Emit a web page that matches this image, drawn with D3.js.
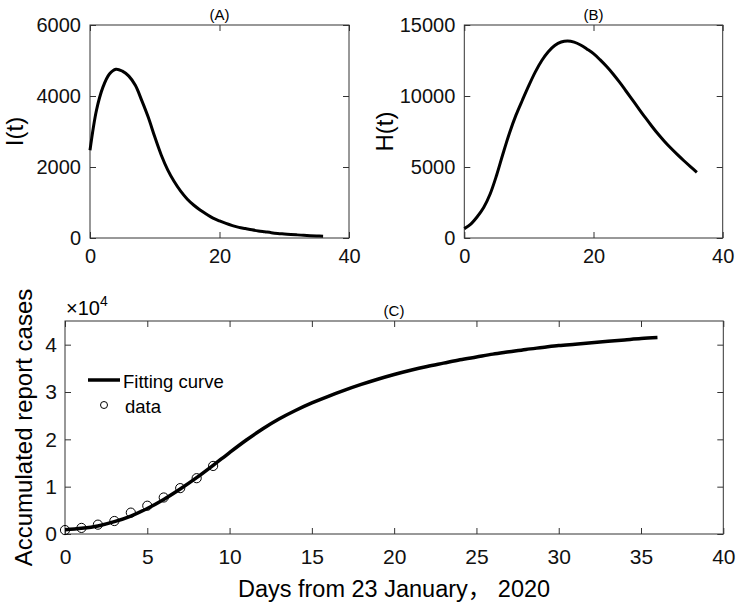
<!DOCTYPE html>
<html><head><meta charset="utf-8">
<script src="https://cdn.jsdelivr.net/npm/d3@7"></script>
<style>
html,body{margin:0;padding:0;background:#fff;}
svg{display:block;font-family:"Liberation Sans",Arial,Helvetica,sans-serif;}
.ax path,.ax line{stroke:#333;stroke-width:1;}
.ax text{fill:#111;}
</style></head><body>
<svg id="chart" width="742" height="606"></svg>
<script>
// ---- data ----
const days = d3.range(0, 37); // 0..36
const infected = [2470,3600,4250,4620,4755,4700,4560,4300,3870,3400,2850,2340,1920,1590,1320,1100,930,790,670,560,480,410,350,300,265,230,200,175,150,130,115,100,88,76,66,57,50];
const hospital = [660,980,1500,2150,3100,4420,5950,7400,8650,9720,10750,11700,12500,13120,13560,13800,13870,13790,13590,13300,12980,12560,12090,11570,10990,10370,9740,9110,8490,7890,7320,6800,6320,5870,5440,5030,4630];
const fitCurve = [0.09,0.12,0.17,0.26,0.38,0.54,0.73,0.95,1.19,1.45,1.72,1.98,2.22,2.43,2.61,2.77,2.91,3.04,3.16,3.27,3.37,3.46,3.54,3.61,3.68,3.74,3.80,3.85,3.90,3.94,3.98,4.01,4.04,4.07,4.10,4.13,4.15];
const dataDays = [0,1,2,3,4,5,6,7,8,9];
const dataCases = [830,1287,1975,2744,4515,5974,7711,9692,11791,14380];
const ticksAB_x = [0,20,40];
const ticksA_y = [0,2000,4000,6000];
const ticksB_y = [0,5000,10000,15000];
const ticksC_x = [0,5,10,15,20,25,30,35,40];
const ticksC_y = [0,1,2,3,4];

const svg = d3.select("#chart");

function panel(o){
  const g = svg.append("g");
  const x = d3.scaleLinear().domain(o.xd).range([o.x0,o.x1]);
  const y = d3.scaleLinear().domain(o.yd).range([o.y1,o.y0]);
  g.append("g").attr("class","ax").attr("transform",`translate(0,${o.y1})`)
    .call(d3.axisBottom(x).tickValues(o.xt).tickSize(-6).tickPadding(o.xpad).tickSizeOuter(0))
    .call(s=>s.selectAll("text").attr("font-size",o.fs));
  g.append("g").attr("class","ax").attr("transform",`translate(0,${o.y0})`)
    .call(d3.axisTop(x).tickValues(o.xt).tickSize(-6).tickFormat("").tickSizeOuter(0));
  g.append("g").attr("class","ax").attr("transform",`translate(${o.x0},0)`)
    .call(d3.axisLeft(y).tickValues(o.yt).tickSize(-6).tickPadding(o.ypad).tickSizeOuter(0).tickFormat(d3.format("d")))
    .call(s=>s.selectAll("text").attr("font-size",o.fs));
  g.append("g").attr("class","ax").attr("transform",`translate(${o.x1},0)`)
    .call(d3.axisRight(y).tickValues(o.yt).tickSize(-6).tickFormat("").tickSizeOuter(0));
  g.selectAll(".ax .domain").remove();
  g.append("rect").attr("x",o.x0).attr("y",o.y0).attr("width",o.x1-o.x0).attr("height",o.y1-o.y0)
    .attr("fill","none").attr("stroke","#333").attr("stroke-width",1);
  return {g,x,y};
}

// Panel A
const A = panel({x0:90,x1:349,y0:25,y1:238,xd:[0,40],yd:[0,6000],xt:ticksAB_x,yt:ticksA_y,fs:20,xpad:11,ypad:9});
A.g.append("path").datum(days).attr("fill","none").attr("stroke","#000").attr("stroke-width",3)
  .attr("d",d3.line().x(d=>A.x(d)).y((d,i)=>A.y(infected[i])).curve(d3.curveCatmullRom));
A.g.append("text").attr("x",219.5).attr("y",20).attr("text-anchor","middle").attr("font-size",15).text("(A)");
A.g.append("text").attr("transform","translate(23,131.5) rotate(-90)").attr("text-anchor","middle").attr("font-size",24).text("I(t)");

// Panel B
const B = panel({x0:464.3,x1:722.7,y0:25,y1:238,xd:[0,40],yd:[0,15000],xt:ticksAB_x,yt:ticksB_y,fs:20,xpad:11,ypad:9});
B.g.append("path").datum(days).attr("fill","none").attr("stroke","#000").attr("stroke-width",3)
  .attr("d",d3.line().x(d=>B.x(d)).y((d,i)=>B.y(hospital[i])).curve(d3.curveCatmullRom));
B.g.append("text").attr("x",593.5).attr("y",20).attr("text-anchor","middle").attr("font-size",15).text("(B)");
B.g.append("text").attr("transform","translate(393,131.5) rotate(-90)").attr("text-anchor","middle").attr("font-size",24).text("H(t)");

// Panel C
const C = panel({x0:65,x1:723.3,y0:321,y1:534,xd:[0,40],yd:[0,4.5],xt:ticksC_x,yt:ticksC_y,fs:21,xpad:15,ypad:8});
C.g.append("path").datum(days).attr("fill","none").attr("stroke","#000").attr("stroke-width",3.5)
  .attr("d",d3.line().x(d=>C.x(d)).y((d,i)=>C.y(fitCurve[i])).curve(d3.curveCatmullRom));
C.g.selectAll("circle.pt").data(dataDays).join("circle").attr("class","pt")
  .attr("cx",d=>C.x(d)).attr("cy",(d,i)=>C.y(dataCases[i]/1e4)).attr("r",4.6)
  .attr("fill","none").attr("stroke","#000").attr("stroke-width",1);
C.g.append("text").attr("x",394).attr("y",316).attr("text-anchor","middle").attr("font-size",15).text("(C)");
const ex = C.g.append("text").attr("x",66).attr("y",315).attr("font-size",20);
ex.append("tspan").text("×10");
ex.append("tspan").attr("font-size",14).attr("dy",-9).text("4");
C.g.append("text").attr("transform","translate(32,427.5) rotate(-90)").attr("text-anchor","middle").attr("font-size",24).text("Accumulated report cases");
const xl = C.g.append("text").attr("x",394).attr("y",597).attr("text-anchor","middle").attr("font-size",23.5);
xl.append("tspan").text("Days from 23 January");
xl.append("tspan").attr("font-family","'Noto Sans CJK SC'").text("，");
xl.append("tspan").text("  2020");
// legend
C.g.append("line").attr("x1",88).attr("x2",120).attr("y1",380).attr("y2",380).attr("stroke","#000").attr("stroke-width",3.5);
C.g.append("text").attr("x",123).attr("y",388).attr("font-size",18.5).text("Fitting curve");
C.g.append("circle").attr("cx",104).attr("cy",405).attr("r",3.5).attr("fill","none").attr("stroke","#000").attr("stroke-width",1);
C.g.append("text").attr("x",125).attr("y",413).attr("font-size",18.5).text("data");
</script>
</body></html>
